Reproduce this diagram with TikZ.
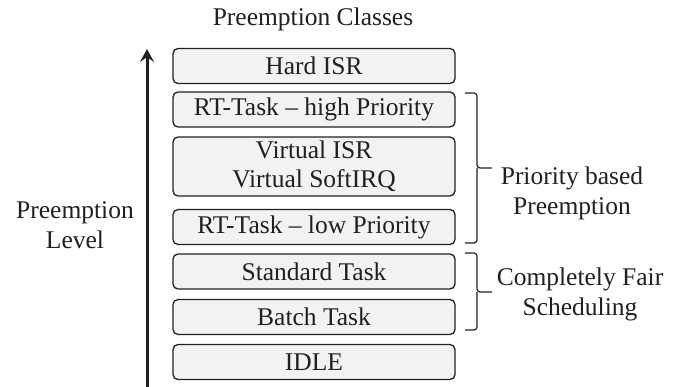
\documentclass[tikz,border=0pt]{standalone}
\usepackage{fontspec}
\setmainfont{Liberation Serif}
\usetikzlibrary{arrows.meta}
\definecolor{ink}{HTML}{231F20}
\definecolor{boxfill}{HTML}{F2F2F2}
\tikzset{
  cls/.style={draw=ink, fill=boxfill, line width=1.3pt, rounded corners=5pt,
    minimum width=282pt, minimum height=35pt, inner sep=0pt, text=ink,
    font=\fontsize{25.5}{29}\selectfont, align=center},
  lbl/.style={text=ink, font=\fontsize{25.5}{30}\selectfont, align=center, inner sep=0pt},
  brk/.style={draw=ink, line width=1.2pt, rounded corners=3pt},
}
\begin{document}
\begin{tikzpicture}[x=1pt,y=-1pt]
\useasboundingbox (0,0) rectangle (680,387);

% title
\node[lbl] (title) at (313,19) {Preemption Classes};

% preemption classes, highest first
\node[cls] (hard) at (314,66) {Hard ISR};
\node[cls] (rthigh) at (314,109.5) {RT-Task -- high Priority};
\node[cls, minimum height=59pt] (virt) at (314,166.5) {Virtual ISR\\Virtual SoftIRQ};
\node[cls] (rtlow) at (314,227) {RT-Task -- low Priority};
\node[cls] (std) at (314,271.5) {Standard Task};
\node[cls] (batch) at (314,317) {Batch Task};
\node[cls] (idle) at (314,362) {IDLE};

% preemption level axis
\coordinate (axbot) at (147,387);
\coordinate (axtop) at (147,49);
\draw[ink, line width=3pt, -{Stealth[length=13pt,width=14pt,inset=5pt]}] (axbot) -- (axtop);
\node[lbl] (level) at (75,225) {Preemption\\Level};

% bracket: priority based preemption
\coordinate (pa) at (465,93);
\coordinate (pb) at (465,243);
\draw[brk] (pa) -- (477,93) -- (477,168) -- (492,168);
\draw[brk] (pb) -- (477,243) -- (477,168);
\node[lbl] (prio) at (572,193) {Priority based\\Preemption};

% bracket: completely fair scheduling
\coordinate (ca) at (465,253);
\coordinate (cb) at (465,330);
\draw[brk] (ca) -- (477,253) -- (477,292) -- (492,292);
\draw[brk] (cb) -- (477,330) -- (477,292);
\node[lbl] (cfs) at (580,294) {Completely Fair\\Scheduling};
\end{tikzpicture}
\end{document}
